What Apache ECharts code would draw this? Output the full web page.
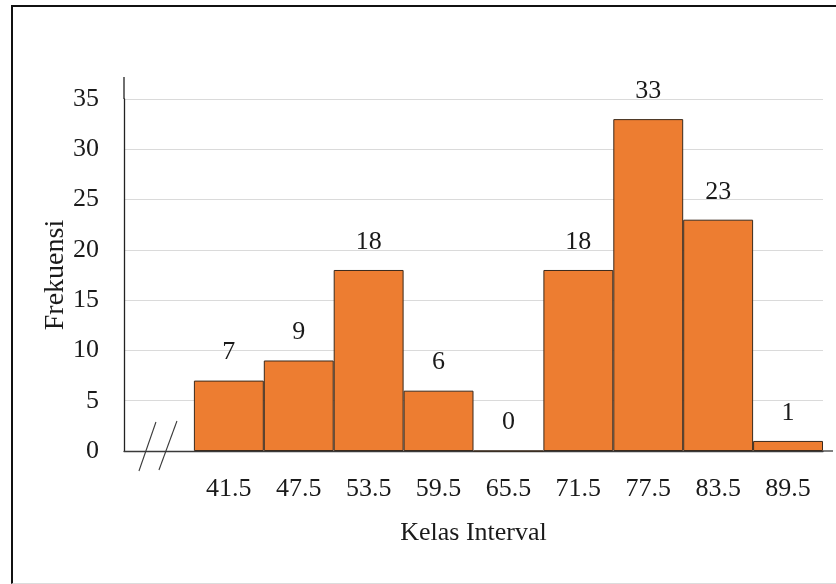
<!DOCTYPE html>
<html>
<head>
<meta charset="utf-8">
<script src="https://cdn.jsdelivr.net/npm/echarts@6/dist/echarts.min.js"></script>
<style>
  html, body { margin: 0; padding: 0; background: #fff; }
  #wrap { position: relative; width: 836px; height: 584px; overflow: hidden; }
  #chart { position: absolute; left: 0; top: 0; width: 836px; height: 584px; }
  #frame {
    position: absolute; left: 11px; top: 5px; width: 840px; height: 576px;
    border-left: 2.5px solid #111; border-top: 2.5px solid #111;
    border-bottom: 1px solid #dcdcdc; pointer-events: none;
  }
</style>
</head>
<body>
<div id="wrap">
  <div id="chart"></div>
  <div id="frame"></div>
</div>
<script>
// Class midpoints (first slot is the axis-break gap) and their frequencies
const classMarks = ['', '41.5', '47.5', '53.5', '59.5', '65.5', '71.5', '77.5', '83.5', '89.5'];
const frequencies = ['-', 7, 9, 18, 6, 0, 18, 33, 23, 1];
const yTicks = { min: 0, max: 35, interval: 5 };

const serif = "'Liberation Serif', 'Times New Roman', serif";
const textColor = '#1a1a1a';
const axisColor = '#3a3a3a';

const chart = echarts.init(document.getElementById('chart'), null, { renderer: 'canvas' });

chart.setOption({
  animation: false,
  backgroundColor: 'transparent',
  grid: { left: 124, right: 13, top: 99, bottom: 133, containLabel: false },
  xAxis: {
    type: 'category',
    data: classMarks,
    boundaryGap: true,
    name: 'Kelas Interval',
    nameLocation: 'middle',
    nameGap: 69,
    nameMoveOverlap: false,
    nameTextStyle: { fontFamily: serif, fontSize: 26, color: textColor },
    axisLine: {
      lineStyle: { color: axisColor, width: 1.3 },
      symbol: ['none', 'rect'],
      symbolSize: [1.3, 10],
      symbolOffset: [0, 5]
    },
    axisTick: { show: false },
    axisLabel: { fontFamily: serif, fontSize: 26, color: textColor, margin: 25, interval: 0 }
  },
  yAxis: {
    type: 'value',
    min: yTicks.min,
    max: yTicks.max,
    interval: yTicks.interval,
    name: 'Frekuensi',
    nameLocation: 'middle',
    nameRotate: 90,
    nameGap: 54,
    nameMoveOverlap: false,
    nameTextStyle: { fontFamily: serif, fontSize: 28, color: textColor },
    axisLine: {
      show: true,
      lineStyle: { color: '#222', width: 1.3 },
      symbol: ['none', 'rect'],
      symbolSize: [1.3, 22],
      symbolOffset: [0, 11]
    },
    axisTick: { show: false },
    axisLabel: { fontFamily: serif, fontSize: 26, color: textColor, margin: 25 },
    splitLine: { show: true, lineStyle: { color: '#dadada', width: 1.2 } }
  },
  series: [{
    type: 'bar',
    data: frequencies,
    barCategoryGap: '0%',
    itemStyle: { color: '#ED7D31', borderColor: '#3b2a1c', borderWidth: 1 },
    label: {
      show: true,
      position: 'top',
      distance: 15,
      fontFamily: serif,
      fontSize: 26,
      color: textColor
    }
  }]
});

// Axis-break marks ("//") drawn inside the empty first class slot
function drawBreakMarks() {
  const c = chart.convertToPixel({ xAxisIndex: 0, yAxisIndex: 0 }, [0, 0]);
  const mk = (x1, y1, x2, y2) => ({
    type: 'line',
    shape: { x1: c[0] + x1, y1: c[1] + y1, x2: c[0] + x2, y2: c[1] + y2 },
    style: { stroke: '#3a3a3a', lineWidth: 1.1 },
    z: 20
  });
  chart.setOption({
    graphic: [
      mk(-20, 20, -3, -29),
      mk(0, 19, 18, -30)
    ]
  });
}
drawBreakMarks();
</script>
</body>
</html>
